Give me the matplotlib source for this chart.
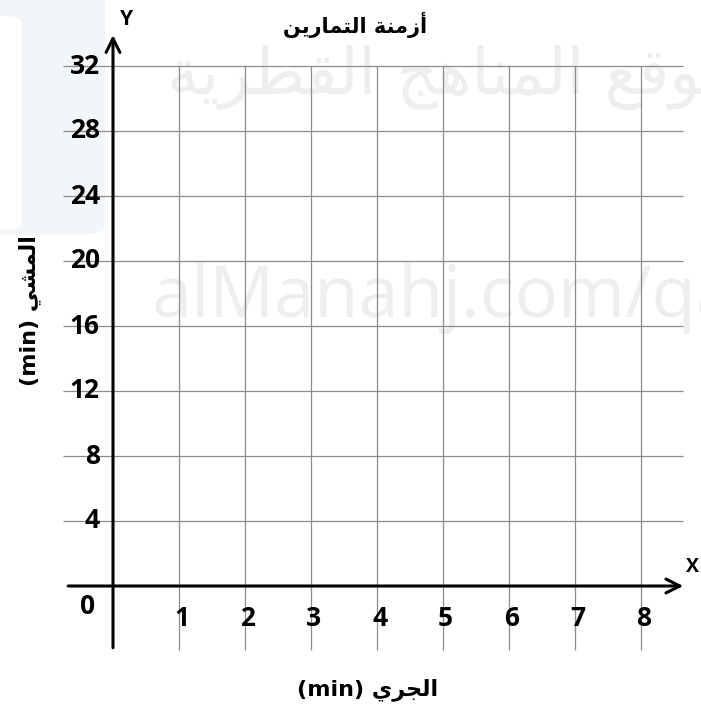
import matplotlib
matplotlib.use("Agg")
import matplotlib.pyplot as plt
from matplotlib.patches import FancyBboxPatch

# chart content
x_ticks = [1, 2, 3, 4, 5, 6, 7, 8]
y_ticks = [4, 8, 12, 16, 20, 24, 28, 32]
x_max = 8
y_max = 32

# Arabic strings, pre-shaped (presentation forms) in visual order
title = "\uFEE6\uFEF3\uFEAD\uFE8E\uFEE4\uFE98\uFEDF\uFE8D \uFE94\uFEE8\uFEE3\uFEAF\uFE83"  # أزمنة التمارين
x_label = "(min) \uFEF1\uFEAE\uFEA0\uFEDF\uFE8D"   # الجري (min)
y_label = "(min) \uFEF2\uFEB8\uFEE4\uFEDF\uFE8D"   # المشي (min)
wm_ar = ("\uFE94\uFEF3\uFEAE\uFEC4\uFED8\uFEDF\uFE8D \uFE9E\uFEEB\uFE8E\uFEE8\uFEE4\uFEDF\uFE8D "
         "\uFECA\uFED7\uFEEE\uFEE3")
wm_en = "alManahj.com/qa"

# page geometry (pixels per data unit)
px_x0, px_y0 = 113, 586
ux, uy = 66.0, 16.25

fig = plt.figure(figsize=(7.01, 7.12), dpi=100)
ax = fig.add_axes([0, 0, 1, 1])
ax.set_xlim(-px_x0 / ux, (701 - px_x0) / ux)
ax.set_ylim(-(712 - px_y0) / uy, px_y0 / uy)
ax.axis("off")

# faint watermark
ax.add_patch(FancyBboxPatch((-1.9, 21.6), 1.78, 16, boxstyle="round,pad=0,rounding_size=0.5",
                            fc="#f3f6f9", ec="none", zorder=0))
ax.add_patch(FancyBboxPatch((-2.2, 21.9), 0.82, 13.2, boxstyle="round,pad=0,rounding_size=0.4",
                            fc="white", ec="none", zorder=0))
ax.text(0.59, 16.55, wm_en, fontsize=52, family="Open Sans", color="#eeeeee",
        va="baseline", ha="left", zorder=0, clip_on=True)
ax.text(9.45, 31.3, wm_ar, fontsize=46, family="DejaVu Sans", color="#eeeeee",
        va="center", ha="right", zorder=0, clip_on=True)

# grid
grid_c = "#8c8c8c"
ax.vlines(x_ticks, -3.94, y_max, color=grid_c, lw=0.9, zorder=1)
ax.hlines(y_ticks, -0.76, 8.64, color=grid_c, lw=0.9, zorder=1)

# axes with arrows
ax.annotate("", xy=(0, 33.9), xytext=(0, -3.8),
            arrowprops=dict(arrowstyle="->,head_length=1.0,head_width=0.5", lw=2.2,
                            color="black", shrinkA=0, shrinkB=0), zorder=3)
ax.annotate("", xy=(8.64, 0), xytext=(-0.68, 0),
            arrowprops=dict(arrowstyle="->,head_length=1.0,head_width=0.5", lw=2.2,
                            color="black", shrinkA=0, shrinkB=0), zorder=3)
ax.text(0.2, 34.85, "Y", fontsize=15, fontweight="bold", family="Open Sans", ha="center", va="center")
ax.text(8.78, 1.15, "X", fontsize=14, fontweight="bold", family="Open Sans", ha="center", va="center")

# tick labels
tick_font = dict(fontsize=19, fontweight="bold", family="Open Sans", zorder=4)
for v in y_ticks:
    ax.text(-0.2, v, str(v), ha="right", va="center", **tick_font)
for v in x_ticks:
    ax.text(v + 0.04, -1.97, str(v), ha="center", va="center", **tick_font)
ax.text(-0.38, -1.29, "0", ha="center", va="center", **tick_font)

# titles
ax.text(3.67, 34.52, title, fontsize=15, fontweight="bold", family="DejaVu Sans",
        ha="center", va="center")
ax.text(3.86, -6.4, x_label, fontsize=16, fontweight="bold", family="DejaVu Sans",
        ha="center", va="center")
ax.text(-1.26, 16.98, y_label, fontsize=16, fontweight="bold", family="DejaVu Sans",
        ha="center", va="center", rotation=90)

fig.savefig("out.png", dpi=100)
